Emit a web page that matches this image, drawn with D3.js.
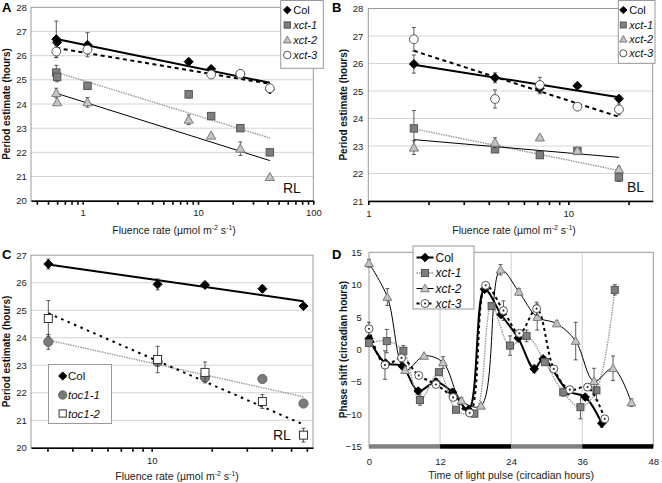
<!DOCTYPE html>
<html><head><meta charset="utf-8">
<script src="https://cdn.jsdelivr.net/npm/d3@7"></script>
<style>body{margin:0;background:#fff}svg{display:block;font-family:"Liberation Sans",Arial,sans-serif}</style>
</head><body><svg id="c" width="662" height="483"></svg>
<script>
// ---------- DATA ----------
// Panel A (RL)
const aFluence = [0.59, 0.6, 1.1, 8.3, 13, 23.3, 42];
const aCol     = [26.68, 26.55, 26.45, 25.75, 25.45, 25.25, 24.6];
const aColErr  = [0.75, 0.1, 0.5, 0.1, 0.08, 0.1, 0.1];
const aXct1    = [25.3, 25.12, 24.75, 24.4, 23.5, 23.0, 22.0];
const aXct1Err = [0.3, 0.2, 0.1, 0.15, 0.1, 0.08, 0.08];
const aXct2    = [24.45, 24.07, 24.07, 23.35, 22.69, 22.15, 20.98];
const aXct2Err = [0.2, 0.05, 0.2, 0.2, 0.05, 0.28, 0.05];
const aXct3    = [26.17, null, 26.25, null, 25.22, 25.25, 24.65];
const aXct3Err = [0.25, 0, 0.1, 0, 0.08, 0, 0.05];
const aXTicks = [0.4,0.5,0.6,0.7,0.8,0.9,1,2,3,4,5,6,7,8,9,10,20,30,40,50,60,70,80,90,100];
const aXLabels = [1, 10, 100];
const aYTicks = [20,21,22,23,24,25,26,27,28];

// Panel B (BL)
const bFluence = [1.69, 4.3, 7.2, 11.1, 17.9];
const bCol     = [25.98, 25.48, 25.1, 25.19, 24.72];
const bColErr  = [0.33, 0.18, 0.2, 0.05, 0.08];
const bXct1    = [23.64, 22.88, 22.67, 22.82, 21.86];
const bXct1Err = [0.65, 0.08, 0.05, 0.08, 0.15];
const bXct2    = [22.94, 23.12, 23.31, 22.83, 22.15];
const bXct2Err = [0.25, 0.18, 0.05, 0.05, 0.1];
const bXct3    = [26.88, 24.71, 25.22, 24.43, 24.33];
const bXct3Err = [0.43, 0.33, 0.28, 0.05, 0.2];
const bXTicks = [1,2,3,4,5,6,7,8,9,10,20];
const bXLabels = [1, 10];
const bYTicks = [21,22,23,24,25,26,27,28];

// Panel C (RL, toc1)
const cFluence  = [3.03, 10.7, 18.5, 35.9, 57.7];
const cCol      = [26.68, 25.94, 25.92, 25.78, 25.15];
const cColErr   = [0.18, 0.2, 0.08, 0.12, 0.05];
const cToc11    = [23.85, 23.12, 22.55, 22.5, 21.61];
const cToc11Err = [0.27, 0.05, 0.05, 0.05, 0.05];
const cToc12    = [24.7, 23.21, 22.74, 21.68, 20.46];
const cToc12Err = [0.65, 0.48, 0.38, 0.25, 0.25];
const cXTicks = [3,4,5,6,7,8,9,10,20,30,40,50,60];
const cXLabels = [10];
const cYTicks = [20,21,22,23,24,25,26,27];

// Panel D (phase response)
const dColT    = [0, 2.8, 5.6, 8.3, 11.3, 14.1, 16.8, 19.5, 22.3, 25.2, 27.9, 29.4, 33.6, 36.5, 39.3];
const dCol     = [1.65, -2.1, -2.55, -6.4, -5.0, -6.6, -9.3, 9.3, 5.4, 1.75, -3.0, -1.45, -6.4, -7.35, -11.4];
const dColErr  = [0.5, 0.3, 0.4, 0.4, 0.5, 0.5, 0.6, 0.5, 0.5, 0.4, 0.6, 0.4, 0.5, 0.4, 0.6];
const dXct1T   = [0, 3.0, 5.8, 8.6, 11.8, 14.7, 17.8, 20.7, 23.8, 26.6, 29.7, 32.8, 35.7, 38.4, 41.5];
const dXct1    = [1.0, 1.3, -0.2, -7.8, -3.5, -9.3, -9.9, 6.7, 0.6, 2.1, -1.95, -6.6, -8.9, -6.3, 9.2];
const dXct1Err = [0.3, 1.8, 0.8, 0.8, 0.4, 0.3, 0.5, 0.5, 1.5, 0.9, 0.4, 0.6, 1.8, 1.5, 0.8];
const dXct2T   = [0, 3.1, 6.1, 9.3, 12.5, 15.6, 18.9, 22.2, 25.3, 28.4, 31.7, 34.9, 38.0, 41.2, 44.3];
const dXct2    = [13.3, 8.1, -3.2, -1.0, -2.0, -7.9, -8.7, 12.3, 8.9, 5.0, 4.0, 1.3, -4.9, -2.9, -8.2];
const dXct2Err = [0.6, 1.3, 0.5, 0.3, 0.9, 0.5, 0.3, 0.8, 0.5, 2.0, 0.4, 2.9, 2.0, 1.9, 0.6];
const dXct3T   = [0, 2.7, 5.5, 8.4, 11.3, 14.2, 17.0, 19.7, 22.7, 25.4, 28.3, 31.2, 33.9, 36.9, 39.8];
const dXct3    = [3.2, -2.4, -1.3, -4.0, -5.4, -7.4, -9.8, 9.9, 6.0, 2.5, 6.3, -3.0, -6.2, -5.8, -10.7];
const dXct3Err = [1.0, 2.2, 0.4, 0.4, 0.4, 0.4, 0.4, 0.4, 1.5, 0.4, 1.0, 0.4, 0.5, 0.5, 0.4];
const dXTicks = [0, 12, 24, 36, 48];
const dYTicks = [-15, -10, -5, 0, 5, 10, 15];
const dBarStart = [0, 12, 24, 36];
const dBarEnd   = [12, 24, 36, 48];
const dBarColor = ["#808080", "#000000", "#808080", "#000000"];

// ---------- STYLES ----------
const ST = {
  col:   {shape:"diamond", fill:"#000", stroke:"#000", size:4.5},
  xct1:  {shape:"square", fill:"#7f7f7f", stroke:"#555", size:3.7},
  xct2:  {shape:"triangle", fill:"#c4c4c4", stroke:"#7a7a7a", size:4.6},
  xct3:  {shape:"circle", fill:"#fff", stroke:"#555", size:4.4},
  xct3d: {shape:"circle", fill:"#fff", stroke:"#555", size:4.2, dot:true},
  toc11: {shape:"circle", fill:"#7a7a7a", stroke:"#666", size:4.6},
  toc12: {shape:"square", fill:"#fff", stroke:"#333", size:4}
};
const LS = {
  solidThick: {stroke:"#000", "stroke-width":2},
  solidThin:  {stroke:"#000", "stroke-width":1},
  dotted:     {stroke:"#999", "stroke-width":1.4, "stroke-dasharray":"1.5,1"},
  dashed:     {stroke:"#000", "stroke-width":2, "stroke-dasharray":"4,3.5"},
  dashedC:    {stroke:"#000", "stroke-width":2, "stroke-dasharray":"2.5,4.5"},
  dashedD:    {stroke:"#000", "stroke-width":2, "stroke-dasharray":"3,3"}
};

const svg = d3.select("#c");
const intFmt = d3.format("d");
function attrs(sel, o){ for (const k in o) sel.attr(k, o[k]); return sel; }

function marker(g, st, x, y, k=1){
  const s = st.size*k; let el;
  if (st.shape==="diamond") el = g.append("path").attr("d",`M${x},${y-s}L${x+s},${y}L${x},${y+s}L${x-s},${y}Z`);
  else if (st.shape==="square") el = g.append("rect").attr("x",x-s).attr("y",y-s).attr("width",2*s).attr("height",2*s);
  else if (st.shape==="triangle") el = g.append("path").attr("d",`M${x},${y-s}L${x+s},${y+s*0.75}L${x-s},${y+s*0.75}Z`);
  else el = g.append("circle").attr("cx",x).attr("cy",y).attr("r",s);
  el.attr("fill",st.fill).attr("stroke",st.stroke).attr("stroke-width",1);
  if (st.dot) g.append("circle").attr("cx",x).attr("cy",y).attr("r",1.1).attr("fill","#333");
}
function errBar(g, x, y, v, e){
  if (!e) return;
  const y1 = y(v+e), y2 = y(v-e);
  g.append("line").attr("x1",x).attr("x2",x).attr("y1",y1).attr("y2",y2).attr("stroke","#333").attr("stroke-width",0.8);
  g.append("line").attr("x1",x-2).attr("x2",x+2).attr("y1",y1).attr("y2",y1).attr("stroke","#333").attr("stroke-width",0.8);
  g.append("line").attr("x1",x-2).attr("x2",x+2).attr("y1",y2).attr("y2",y2).attr("stroke","#333").attr("stroke-width",0.8);
}
function logFit(xs, ys){
  const pts = xs.map((d,i)=>[Math.log10(d), ys[i]]).filter(p=>p[1]!=null);
  const mx = d3.mean(pts,p=>p[0]), my = d3.mean(pts,p=>p[1]);
  const b = d3.sum(pts,p=>(p[0]-mx)*(p[1]-my)) / d3.sum(pts,p=>(p[0]-mx)**2);
  const xmin = d3.min(xs.filter((d,i)=>ys[i]!=null)), xmax = d3.max(xs.filter((d,i)=>ys[i]!=null));
  return [[xmin, my + b*(Math.log10(xmin)-mx)], [xmax, my + b*(Math.log10(xmax)-mx)]];
}
function fluenceTitle(g, cx, by){
  const t = g.append("text").attr("x",cx).attr("y",by).attr("text-anchor","middle").attr("font-size","10.5px").attr("fill","#222");
  t.append("tspan").text("Fluence rate (µmol m");
  t.append("tspan").attr("font-size","7px").attr("dy",-4).text("-2");
  t.append("tspan").attr("dy",4).text(" s");
  t.append("tspan").attr("font-size","7px").attr("dy",-4).text("-1");
  t.append("tspan").attr("dy",4).text(")");
}
function yTitle(g, text, bx, cy){
  g.append("text").attr("transform",`translate(${bx},${cy}) rotate(-90)`).attr("text-anchor","middle")
   .attr("font-size","10px").attr("font-weight","bold").attr("fill","#111").text(text);
}
function letter(g, s, x, y){
  g.append("text").attr("x",x).attr("y",y).attr("font-size","13px").attr("font-weight","bold").text(s);
}
function legend(box, items, rows, mx, tx, fs, k, lineLen){
  const g = svg.append("g");
  g.append("rect").attr("x",box[0]).attr("y",box[1]).attr("width",box[2]).attr("height",box[3]).attr("fill","#fff").attr("stroke","#999");
  items.forEach((it,i)=>{
    const cy = rows[i];
    if (lineLen) attrs(g.append("line").attr("x1",mx-lineLen/2).attr("x2",mx+lineLen/2).attr("y1",cy).attr("y2",cy), it.line);
    marker(g, it.st, mx, cy, k);
    g.append("text").attr("x",tx).attr("y",cy).attr("dy","0.36em").attr("font-size",fs)
     .attr("font-style", it.italic ? "italic" : null).attr("fill","#111").text(it.label);
  });
}

function logPanel(p){
  const g = svg.append("g");
  const x = d3.scaleLog().domain(p.xDomain).range([p.left, p.right]);
  const y = d3.scaleLinear().domain(p.yDomain).range([p.bottom, p.top]);
  g.selectAll(null).data(p.yTicks.slice(1,-1)).join("line")
    .attr("x1",p.left).attr("x2",p.right).attr("y1",d=>y(d)).attr("y2",d=>y(d)).attr("stroke","#d4d4d4");
  g.append("rect").attr("x",p.left).attr("y",p.top).attr("width",p.right-p.left).attr("height",p.bottom-p.top)
    .attr("fill","none").attr("stroke","#999");
  const ax = g.append("g").attr("transform",`translate(0,${p.bottom})`)
    .call(d3.axisBottom(x).tickValues(p.xTicks).tickSize(4).tickSizeOuter(0).tickPadding(5)
      .tickFormat(d => p.xLabels.includes(d) ? intFmt(d) : ""));
  ax.select(".domain").attr("stroke","#000").attr("stroke-width",1.5);
  ax.selectAll(".tick line").attr("stroke","#000").attr("stroke-width",1.6);
  ax.selectAll("text").attr("font-size","9.5px").attr("fill","#222").attr("font-family",null);
  const ay = g.append("g").attr("transform",`translate(${p.left},0)`)
    .call(d3.axisLeft(y).tickValues(p.yTicks).tickFormat(intFmt).tickSize(0).tickPadding(p.left - p.labelRight));
  ay.select(".domain").remove();
  ay.selectAll("text").attr("font-size","9.5px").attr("fill","#222").attr("font-family",null);
  p.series.forEach(s=>{
    const f = logFit(p.fluence, s.values);
    attrs(g.append("line").attr("x1",x(f[0][0])).attr("y1",y(f[0][1])).attr("x2",x(f[1][0])).attr("y2",y(f[1][1])), s.line);
  });
  p.series.forEach(s=>{
    p.fluence.forEach((fv,i)=>{ if (s.values[i]!=null) errBar(g, x(fv), y, s.values[i], s.err[i]); });
    p.fluence.forEach((fv,i)=>{ if (s.values[i]!=null) marker(g, s.st, x(fv), y(s.values[i])); });
  });
  g.append("text").attr("x",p.tag[0]).attr("y",p.tag[1]).attr("font-size","14px").attr("fill","#111").text(p.tag[2]);
  fluenceTitle(g, p.xTitle[0], p.xTitle[1]);
  yTitle(g, "Period estimate (hours)", p.yTitleX, (p.top+p.bottom)/2);
  letter(g, p.letter[0], p.letter[1], p.letter[2]);
}

// Panel A
logPanel({left:31, right:313.3, top:7.3, bottom:200.7, labelRight:26.7,
  xDomain:[0.356, 100], yDomain:[20,28], xTicks:aXTicks, xLabels:aXLabels, yTicks:aYTicks, fluence:aFluence,
  series:[
    {values:aCol,  err:aColErr,  st:ST.col,  line:LS.solidThick},
    {values:aXct1, err:aXct1Err, st:ST.xct1, line:LS.dotted},
    {values:aXct2, err:aXct2Err, st:ST.xct2, line:LS.solidThin},
    {values:aXct3, err:aXct3Err, st:ST.xct3, line:LS.dashed}],
  tag:[283,193,"RL"], xTitle:[174,233.5], yTitleX:10, letter:["A",2,12]});

// Panel B
logPanel({left:368.3, right:652.7, top:8.5, bottom:201, labelRight:363.3,
  xDomain:[1, 26.4], yDomain:[21,28], xTicks:bXTicks, xLabels:bXLabels, yTicks:bYTicks, fluence:bFluence,
  series:[
    {values:bCol,  err:bColErr,  st:ST.col,  line:LS.solidThick},
    {values:bXct1, err:bXct1Err, st:ST.xct1, line:LS.dotted},
    {values:bXct2, err:bXct2Err, st:ST.xct2, line:LS.solidThin},
    {values:bXct3, err:bXct3Err, st:ST.xct3, line:LS.dashed}],
  tag:[627,192,"BL"], xTitle:[514,233.5], yTitleX:346.5, letter:["B",332,12]});

// Panel C
logPanel({left:31, right:313, top:255.2, bottom:447.8, labelRight:26.7,
  xDomain:[2.48, 64.4], yDomain:[20,27], xTicks:cXTicks, xLabels:cXLabels, yTicks:cYTicks, fluence:cFluence,
  series:[
    {values:cCol,   err:cColErr,   st:ST.col,   line:LS.solidThick},
    {values:cToc11, err:cToc11Err, st:ST.toc11, line:LS.dotted},
    {values:cToc12, err:cToc12Err, st:ST.toc12, line:LS.dashedC}],
  tag:[273,440,"RL"], xTitle:[177,480], yTitleX:10, letter:["C",2,259]});

// Legends A/B/C
const abItems = [
  {st:ST.col, label:"Col"}, {st:ST.xct1, label:"xct-1", italic:true},
  {st:ST.xct2, label:"xct-2", italic:true}, {st:ST.xct3, label:"xct-3", italic:true}];
legend([280.7,0.5,42.6,67.8], abItems, [10,25,40,55], 287.3, 293.3, "11px", 0.85);
legend([618.3,0.5,36.7,62.8], abItems, [10,25,39.3,53.3], 623.3, 629.3, "11px", 0.8);
legend([48.5,364.5,63,59], [
  {st:ST.col, label:"Col"}, {st:ST.toc11, label:"toc1-1", italic:true}, {st:ST.toc12, label:"toc1-2", italic:true}],
  [376,395,413.5], 62.7, 68, "11.5px", 0.9);

// Panel D
(function(){
  const g = svg.append("g");
  const L=369, R=653.3, T=252.3, B=446.7;
  const x = d3.scaleLinear().domain([0,48]).range([L,R]);
  const y = d3.scaleLinear().domain([-15,15]).range([B,T]);
  g.selectAll(null).data(dXTicks.slice(1,-1)).join("line")
    .attr("x1",d=>x(d)).attr("x2",d=>x(d)).attr("y1",T).attr("y2",B).attr("stroke","#cfcfcf");
  g.append("rect").attr("x",L).attr("y",T).attr("width",R-L).attr("height",B-T).attr("fill","none").attr("stroke","#999");
  const ax = g.append("g").attr("transform",`translate(0,${B})`)
    .call(d3.axisBottom(x).tickValues(dXTicks).tickFormat(intFmt).tickSize(0).tickPadding(11.5));
  ax.select(".domain").remove();
  ax.selectAll("text").attr("font-size","9.5px").attr("fill","#222").attr("font-family",null);
  const ay = g.append("g").attr("transform",`translate(${L},0)`)
    .call(d3.axisLeft(y).tickValues(dYTicks).tickFormat(intFmt).tickSize(0).tickPadding(7.3));
  ay.select(".domain").remove();
  ay.selectAll("text").attr("font-size","9.5px").attr("fill","#222").attr("font-family",null);
  g.selectAll(null).data(dBarStart).join("rect")
    .attr("x",(d)=>x(d)).attr("width",(d,i)=>x(dBarEnd[i])-x(d)).attr("y",B-2.5).attr("height",4.5)
    .attr("fill",(d,i)=>dBarColor[i]);
  const series = [
    {t:dColT,  v:dCol,  e:dColErr,  st:ST.col,   line:LS.solidThick},
    {t:dXct1T, v:dXct1, e:dXct1Err, st:ST.xct1,  line:LS.dotted},
    {t:dXct2T, v:dXct2, e:dXct2Err, st:ST.xct2,  line:LS.solidThin},
    {t:dXct3T, v:dXct3, e:dXct3Err, st:ST.xct3d, line:LS.dashedD}];
  const lineGen = d3.line().x(d=>x(d[0])).y(d=>y(d[1])).curve(d3.curveCatmullRom.alpha(0.5));
  series.forEach(s=>{
    const pts = s.t.map((t,i)=>[t, s.v[i]]);
    attrs(g.append("path").attr("d",lineGen(pts)).attr("fill","none"), s.line);
  });
  series.forEach(s=>{
    s.t.forEach((t,i)=>errBar(g, x(t), y, s.v[i], s.e[i]));
    s.t.forEach((t,i)=>marker(g, s.st, x(t), y(s.v[i]), 0.95));
  });
  g.append("text").attr("x",(L+R)/2).attr("y",479).attr("text-anchor","middle").attr("font-size","10.5px").attr("fill","#222")
    .text("Time of light pulse (circadian hours)");
  yTitle(g, "Phase shift (circadian hours)", 347, (T+B)/2);
  letter(g, "D", 332, 259);
  legend([413,246,61,63], [
    {st:ST.col, label:"Col", line:LS.solidThick},
    {st:ST.xct1, label:"xct-1", italic:true, line:LS.dotted},
    {st:ST.xct2, label:"xct-2", italic:true, line:LS.solidThin},
    {st:ST.xct3d, label:"xct-3", italic:true, line:LS.dashedD}],
    [257.5,273,288.5,303.5], 425, 435.5, "12px", 0.95, 17);
})();
</script></body></html>
